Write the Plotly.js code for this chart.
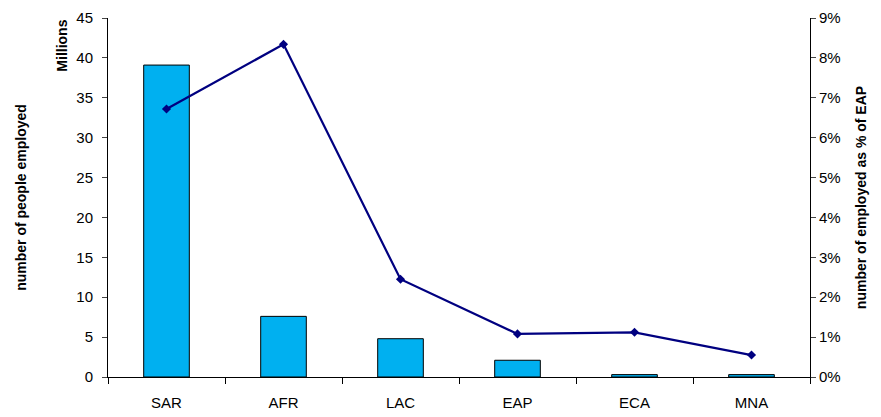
<!DOCTYPE html>
<html>
<head>
<script src="https://cdn.plot.ly/plotly-3.0.1.min.js"></script>
</head>
<body style="margin:0">
<div id="chart" style="width:881px;height:417px"></div>
<script>
var regions = ['SAR', 'AFR', 'LAC', 'EAP', 'ECA', 'MNA'];
var employedMillions = [39.1, 7.6, 4.8, 2.1, 0.3, 0.3];
var shareOfEAP = [0.0672, 0.0834, 0.0245, 0.0108, 0.0112, 0.0055];

var bars = {
	x: regions,
	y: employedMillions,
	type: 'bar',
	width: 0.39,
	marker: {color: '#00b0f0', line: {color: '#000', width: 1}},
	hoverinfo: 'none'
};
var line = {
	x: regions,
	y: shareOfEAP,
	yaxis: 'y2',
	type: 'scatter',
	mode: 'lines+markers',
	line: {color: '#000080', width: 2.2},
	marker: {symbol: 'diamond', size: 7, color: '#000080'},
	hoverinfo: 'none'
};
var font = {family: 'Liberation Sans, Arial, sans-serif', size: 14, color: '#000'};
var tickFont = {family: 'Liberation Sans, Arial, sans-serif', size: 15, color: '#000'};
var layout = {
	width: 881, height: 417,
	margin: {l: 108, r: 71, t: 18, b: 40},
	showlegend: false,
	font: font,
	paper_bgcolor: '#fff',
	plot_bgcolor: '#fff',
	xaxis: {
		showline: true, linecolor: '#000', linewidth: 1,
		ticks: 'outside', ticklen: 6, tickcolor: '#000',
		tickson: 'boundaries', range: [-0.5, 5.5],
		tickfont: tickFont, ticklabelstandoff: 12
	},
	yaxis: {
		range: [0, 45], dtick: 5, showgrid: false, zeroline: false,
		showline: true, linecolor: '#000', ticks: 'outside', ticklen: 5,
		tickfont: tickFont, ticklabelstandoff: 6,
		title: {text: '<b>number of people employed</b>', font: font, standoff: 46}
	},
	yaxis2: {
		range: [0, 0.09], dtick: 0.01, tickformat: '.0%', overlaying: 'y', side: 'right',
		showgrid: false, zeroline: false, showline: true, linecolor: '#000',
		ticks: 'outside', ticklen: 5, tickfont: tickFont,
		title: {text: '<b>number of employed as % of EAP</b>', font: font, standoff: 16}
	},
	annotations: [{
		text: '<b>Millions</b>', xref: 'paper', yref: 'paper', x: -0.066, y: 1.0,
		xanchor: 'center', yanchor: 'top', textangle: -90, showarrow: false, font: font
	}]
};
Plotly.newPlot('chart', [bars, line], layout, {displayModeBar: false});
</script>
</body>
</html>
